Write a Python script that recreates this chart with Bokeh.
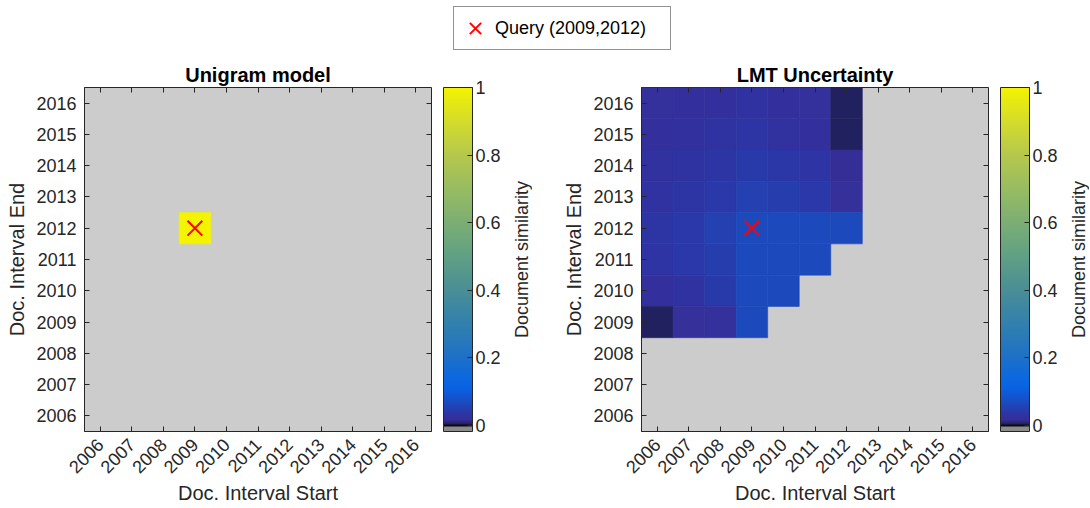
import numpy as np
from math import pi, nan, isnan
from bokeh.plotting import figure
from bokeh.models import (Range1d, FixedTicker, LinearAxis, ColorBar, LinearColorMapper,
                          Legend, LegendItem, CustomJSTickFormatter, ColumnDataSource)
from bokeh.layouts import column, row
from bokeh.embed import file_html
from bokeh.resources import INLINE

# ---------------- data ----------------
years = list(range(2006, 2017))
query_start = 2009
query_end = 2012

# Unigram model: only the query interval itself is similar
unigram_start = [2009]
unigram_end = [2012]
unigram_value = [1.0]

# LMT uncertainty: rows = interval end, cols = interval start (NaN = not available)
lmt_start = [2006, 2007, 2008, 2009, 2010, 2011, 2012]
lmt_end = [2016, 2015, 2014, 2013, 2012, 2011, 2010, 2009]
lmt_values = [
    [0.020, 0.022, 0.023, 0.029, 0.022, 0.020, 0.005],
    [0.023, 0.024, 0.030, 0.034, 0.027, 0.022, 0.005],
    [0.027, 0.030, 0.035, 0.042, 0.038, 0.032, 0.017],
    [0.028, 0.034, 0.041, 0.050, 0.046, 0.040, 0.019],
    [0.034, 0.041, 0.050, 0.065, 0.065, 0.065, 0.065],
    [0.032, 0.040, 0.047, 0.065, 0.065, 0.065, nan],
    [0.022, 0.029, 0.042, 0.065, 0.065, nan, nan],
    [0.005, 0.018, 0.021, 0.065, nan, nan, nan],
]

colorbar_ticks = [0, 0.2, 0.4, 0.6, 0.8, 1]

# ---------------- style ----------------
FONT = "Liberation Sans"
AX = "#262626"
NAN_GRAY = "#CCCCCC"
LOW, HIGH = -0.018, 1.0

anchor_v = [0.003, 0.008, 0.012, 0.018, 0.025, 0.032, 0.040, 0.048, 0.056, 0.065,
            0.085, 0.11, 0.14, 0.2, 0.3, 0.4, 0.5, 0.6, 0.7, 0.8, 0.9, 1.0]
anchor_c = ["#20205A", "#262468", "#30288A", "#36309A", "#32309E", "#2E34A3", "#2A38A8",
            "#253EAF", "#2244B6", "#1C4ABD", "#1254D0", "#0A62E2", "#0C68E0", "#1E70C8",
            "#3280AE", "#4A8E96", "#60A084", "#7CAE74", "#98BC62", "#B6C84C", "#D4DC2C", "#F4F400"]


def hex2rgb(h):
    return [int(h[i:i + 2], 16) for i in (1, 3, 5)]


rgb = np.array([hex2rgb(c) for c in anchor_c], dtype=float)
N = 512
palette = []
for i in range(N):
    v = LOW + (i + 0.5) * (HIGH - LOW) / N
    if v < -0.003:
        palette.append("#8C8C8C")
    elif v < 0.003:
        palette.append("#0A0A0A")
    else:
        r, g, b = (int(round(np.interp(v, anchor_v, rgb[:, k]))) for k in range(3))
        palette.append("#%02X%02X%02X" % (r, g, b))

mapper = LinearColorMapper(palette=palette, low=LOW, high=HIGH, nan_color=NAN_GRAY)


def grid_source(starts, ends, values):
    xs, ys, vs = [], [], []
    for j, e in enumerate(ends):
        for i, s in enumerate(starts):
            v = values[j][i]
            if not isnan(v):  # NaN cells show the gray background
                xs.append(s)
                ys.append(e)
                vs.append(v)
    return ColumnDataSource(dict(x=xs, y=ys, v=vs))


TOP_B, BOT_B = 36, 76


def make_panel(title, src, left_border, right_border):
    p = figure(frame_width=347, frame_height=344,
               x_range=Range1d(2005.5, 2016.5), y_range=Range1d(2005.5, 2016.5),
               toolbar_location=None, output_backend="svg",
               min_border_left=left_border, min_border_right=right_border,
               min_border_top=TOP_B, min_border_bottom=BOT_B,
               background_fill_color=NAN_GRAY, outline_line_color=AX)
    p.title.text = title
    p.title.align = "center"
    p.title.text_font = FONT
    p.title.text_font_size = "20px"
    p.title.text_font_style = "bold"
    p.title.text_color = "black"
    p.title.standoff = 4
    p.grid.visible = False

    p.rect(x="x", y="y", width=1, height=1, source=src,
           fill_color={"field": "v", "transform": mapper},
           line_color={"field": "v", "transform": mapper}, line_width=0.6)
    p.scatter(x=[query_start], y=[query_end], marker="x", size=21,
              line_color="#FF0000", line_width=2)

    for ax in (p.xaxis[0], p.yaxis[0]):
        ax.ticker = FixedTicker(ticks=years)
        ax.minor_tick_line_color = None
        ax.major_tick_in = 5
        ax.major_tick_out = 0
        ax.major_tick_line_color = AX
        ax.axis_line_color = AX
        ax.major_label_text_font = FONT
        ax.major_label_text_font_size = "18px"
        ax.major_label_text_color = AX
        ax.axis_label_text_font = FONT
        ax.axis_label_text_font_size = "20px"
        ax.axis_label_text_font_style = "normal"
        ax.axis_label_text_color = AX
    p.xaxis.axis_label = "Doc. Interval Start"
    p.yaxis.axis_label = "Doc. Interval End"
    p.xaxis.major_label_orientation = pi / 4
    p.xaxis.major_label_standoff = 10
    p.xaxis.axis_label_standoff = 0
    p.yaxis.major_label_standoff = 8
    p.yaxis.axis_label_standoff = 5

    blank = CustomJSTickFormatter(code="return ''")
    top_ax = LinearAxis(ticker=FixedTicker(ticks=years), formatter=blank,
                        major_tick_in=5, major_tick_out=0, major_label_standoff=0,
                        minor_tick_line_color=None, axis_line_color=None,
                        major_tick_line_color=AX, major_label_text_font_size="0px")
    right_ax = LinearAxis(ticker=FixedTicker(ticks=years), formatter=blank,
                          major_tick_in=5, major_tick_out=0, major_label_standoff=0,
                          minor_tick_line_color=None, axis_line_color=None,
                          major_tick_line_color=AX, major_label_text_font_size="0px")
    p.add_layout(top_ax, "above")
    p.add_layout(right_ax, "right")

    cb = ColorBar(color_mapper=mapper, ticker=FixedTicker(ticks=colorbar_ticks),
                  formatter=CustomJSTickFormatter(code="return (Math.round(tick*10)/10).toString();"),
                  width=29, height=344, padding=0, margin=0, location=(12, 0),
                  bar_line_color=AX, major_tick_line_color=AX, major_tick_in=5, major_tick_out=0,
                  minor_tick_line_color=None, label_standoff=3,
                  major_label_text_font=FONT, major_label_text_font_size="18px",
                  major_label_text_color=AX, background_fill_color=None,
                  border_line_color=None)
    p.add_layout(cb, "right")
    return p


def make_cbar_label(left_border):
    # narrow strip whose (left) axis label is the colour-bar title, reading bottom-to-top
    t = figure(frame_width=1, frame_height=344, toolbar_location=None, output_backend="svg",
               x_axis_type=None, min_border_left=left_border, min_border_right=0,
               min_border_top=TOP_B, min_border_bottom=BOT_B, outline_line_color=None,
               background_fill_color=None, x_range=Range1d(0, 1), y_range=Range1d(0, 1))
    t.grid.visible = False
    ax = t.yaxis[0]
    ax.ticker = FixedTicker(ticks=[0.5])
    ax.formatter = CustomJSTickFormatter(code="return ''")
    ax.axis_line_color = None
    ax.major_tick_line_color = None
    ax.minor_tick_line_color = None
    ax.major_tick_in = 0
    ax.major_tick_out = 0
    ax.major_label_text_font_size = "0px"
    ax.major_label_standoff = 0
    ax.axis_label = "Document similarity"
    ax.axis_label_standoff = 0
    ax.axis_label_text_font = FONT
    ax.axis_label_text_font_size = "18px"
    ax.axis_label_text_font_style = "normal"
    ax.axis_label_text_color = AX
    return t


uni_src = grid_source(unigram_start, unigram_end, [unigram_value])
lmt_src = grid_source(lmt_start, lmt_end, lmt_values)

p1 = make_panel("Unigram model", uni_src, 84, 69)      # 0 .. 500
l1 = make_cbar_label(28)                               # 500 .. 533
p2 = make_panel("LMT Uncertainty", lmt_src, 109, 68)   # 533 .. 1057
l2 = make_cbar_label(28)                               # 1057 .. 1090

# legend figure on top
top = figure(width=1090, height=51, x_range=(0, 1), y_range=(0, 1),
             toolbar_location=None, output_backend="svg", min_border=0,
             x_axis_type=None, y_axis_type=None, outline_line_color=None)
top.grid.visible = False
lr = top.scatter(x=[query_start], y=[query_end], marker="x", size=21,
                 line_color="#FF0000", line_width=2)
legend = Legend(items=[LegendItem(label="Query (%d,%d)" % (query_start, query_end), renderers=[lr])],
                location=(453, 1), glyph_width=40, glyph_height=40, padding=1, margin=0,
                spacing=0, label_standoff=-3, label_width=174,
                label_text_font=FONT, label_text_font_size="18px", label_text_color="black",
                border_line_color=AX, border_line_width=1, background_fill_alpha=1)
top.add_layout(legend, "center")

layout = column(top, row(p1, l1, p2, l2))
open("out.html", "w").write(file_html(layout, INLINE))
